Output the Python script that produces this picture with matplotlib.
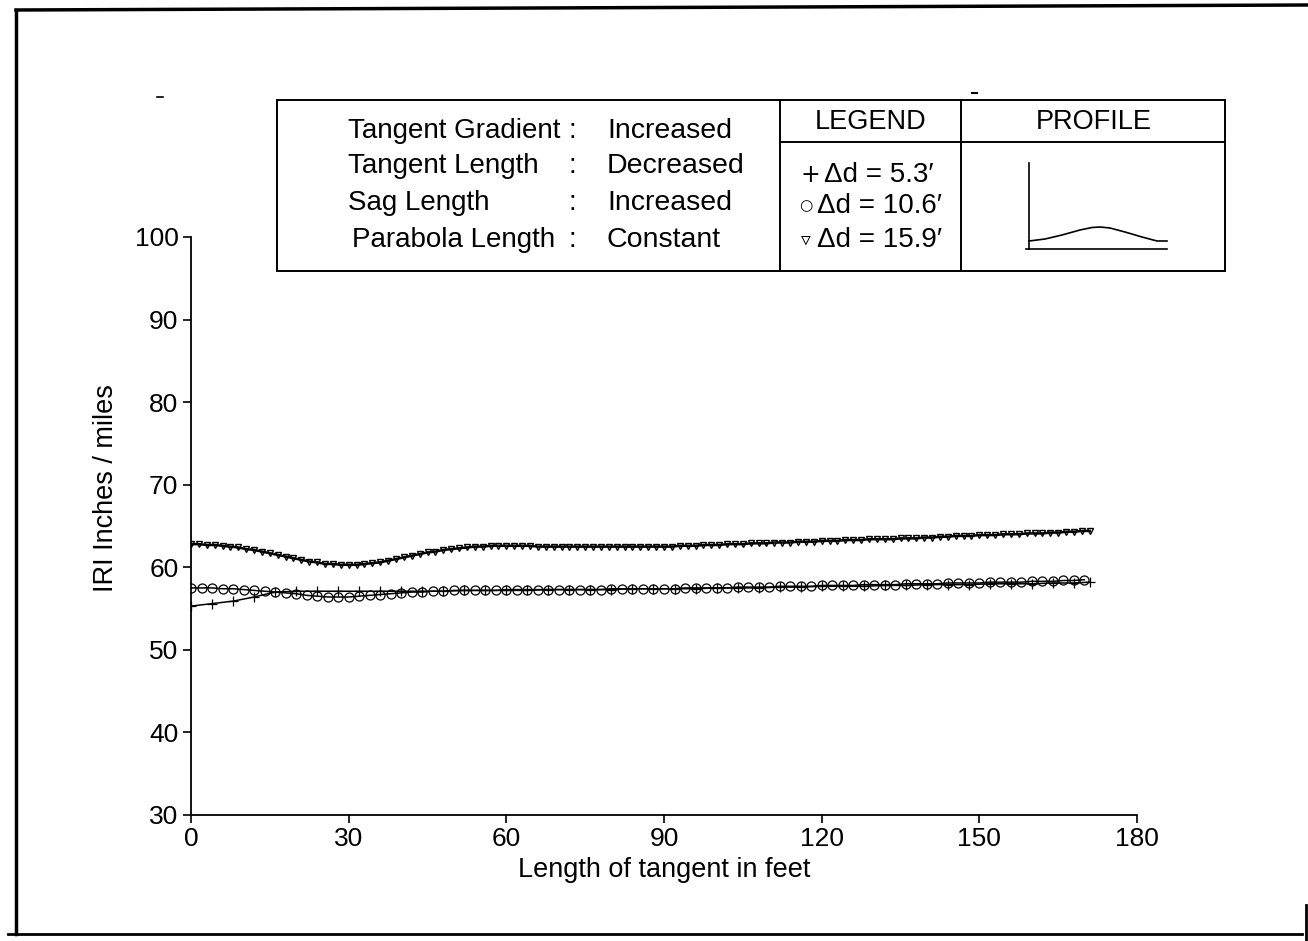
import matplotlib
matplotlib.use("Agg")
import matplotlib.pyplot as plt
from matplotlib.patches import Rectangle
from matplotlib.lines import Line2D

plt.rcParams['font.family'] = ['Liberation Sans', 'DejaVu Sans']

# ---------------- data ----------------
x_tri = [0, 1.5, 3, 4.5, 6, 7.5, 9, 10.5, 12, 13.5, 15, 16.5, 18, 19.5, 21, 22.5,
         24, 25.5, 27, 28.5, 30, 31.5, 33, 34.5, 36, 37.5, 39, 40.5, 42, 43.5, 45,
         46.5, 48, 49.5, 51, 52.5, 54, 55.5, 57, 58.5, 60, 61.5, 63, 64.5, 66, 67.5,
         69, 70.5, 72, 73.5, 75, 76.5, 78, 79.5, 81, 82.5, 84, 85.5, 87, 88.5, 90,
         91.5, 93, 94.5, 96, 97.5, 99, 100.5, 102, 103.5, 105, 106.5, 108, 109.5,
         111, 112.5, 114, 115.5, 117, 118.5, 120, 121.5, 123, 124.5, 126, 127.5,
         129, 130.5, 132, 133.5, 135, 136.5, 138, 139.5, 141, 142.5, 144, 145.5,
         147, 148.5, 150, 151.5, 153, 154.5, 156, 157.5, 159, 160.5, 162, 163.5,
         165, 166.5, 168, 169.5, 171]
y_tri = [62.8, 62.8, 62.7, 62.7, 62.6, 62.5, 62.4, 62.2, 62.1, 61.9,
         61.7, 61.5, 61.3, 61.1, 60.9, 60.7, 60.6, 60.4, 60.4, 60.3,
         60.3, 60.3, 60.4, 60.5, 60.6, 60.8, 61.0, 61.2, 61.4, 61.6,
         61.8, 61.9, 62.1, 62.2, 62.3, 62.4, 62.5, 62.5, 62.6, 62.6,
         62.6, 62.6, 62.6, 62.6, 62.5, 62.5, 62.5, 62.5, 62.5, 62.5,
         62.5, 62.5, 62.5, 62.5, 62.5, 62.5, 62.5, 62.5, 62.5, 62.5,
         62.5, 62.5, 62.6, 62.6, 62.6, 62.7, 62.7, 62.7, 62.8, 62.8,
         62.8, 62.9, 62.9, 62.9, 63.0, 63.0, 63.0, 63.1, 63.1, 63.1,
         63.2, 63.2, 63.2, 63.3, 63.3, 63.3, 63.4, 63.4, 63.4, 63.4,
         63.5, 63.5, 63.5, 63.6, 63.6, 63.7, 63.7, 63.8, 63.8, 63.8,
         63.9, 63.9, 63.9, 64.0, 64.0, 64.0, 64.1, 64.1, 64.1, 64.2,
         64.2, 64.3, 64.3, 64.4, 64.4]

x_circ = [0, 2, 4, 6, 8, 10, 12, 14, 16, 18, 20, 22, 24, 26, 28, 30, 32, 34, 36,
          38, 40, 42, 44, 46, 48, 50, 52, 54, 56, 58, 60, 62, 64, 66, 68, 70, 72,
          74, 76, 78, 80, 82, 84, 86, 88, 90, 92, 94, 96, 98, 100, 102, 104, 106,
          108, 110, 112, 114, 116, 118, 120, 122, 124, 126, 128, 130, 132, 134,
          136, 138, 140, 142, 144, 146, 148, 150, 152, 154, 156, 158, 160, 162,
          164, 166, 168, 170]
y_circ = [57.5, 57.5, 57.5, 57.4, 57.4, 57.3, 57.2, 57.1, 57.0, 56.9,
          56.8, 56.6, 56.5, 56.4, 56.4, 56.4, 56.5, 56.6, 56.7, 56.8,
          56.9, 57.0, 57.0, 57.1, 57.1, 57.2, 57.2, 57.2, 57.2, 57.2,
          57.3, 57.3, 57.3, 57.3, 57.3, 57.3, 57.3, 57.3, 57.3, 57.3,
          57.4, 57.4, 57.4, 57.4, 57.4, 57.4, 57.4, 57.5, 57.5, 57.5,
          57.5, 57.5, 57.6, 57.6, 57.6, 57.6, 57.7, 57.7, 57.7, 57.7,
          57.8, 57.8, 57.8, 57.8, 57.9, 57.9, 57.9, 57.9, 58.0, 58.0,
          58.0, 58.0, 58.1, 58.1, 58.1, 58.1, 58.2, 58.2, 58.2, 58.2,
          58.3, 58.3, 58.3, 58.4, 58.4, 58.5]

x_plus = [0, 4, 8, 12, 16, 20, 24, 28, 32, 36, 40, 44, 48, 52, 56, 60, 64, 68,
          72, 76, 80, 84, 88, 92, 96, 100, 104, 108, 112, 116, 120, 124, 128,
          132, 136, 140, 144, 148, 152, 156, 160, 164, 168, 171]
y_plus = [55.3, 55.6, 55.9, 56.4, 57.0, 57.1, 57.1, 57.1, 57.1, 57.1,
          57.1, 57.1, 57.1, 57.2, 57.2, 57.2, 57.2, 57.3, 57.3, 57.3,
          57.3, 57.4, 57.4, 57.4, 57.4, 57.5, 57.5, 57.5, 57.6, 57.6,
          57.7, 57.7, 57.7, 57.8, 57.8, 57.9, 57.9, 57.9, 58.0, 58.0,
          58.0, 58.1, 58.1, 58.2]

x_ticks = [0, 30, 60, 90, 120, 150, 180]
y_ticks = [30, 40, 50, 60, 70, 80, 90, 100]

info_labels = ["Tangent Gradient", "Tangent Length", "Sag Length", "Parabola Length"]
info_values = ["Increased", "Decreased", "Increased", "Constant"]
legend_symbols = ["+", "\u25CB", "\u25BF"]
legend_labels = ["\u0394d = 5.3\u2032", "\u0394d = 10.6\u2032", "\u0394d = 15.9\u2032"]

# ---------------- figure ----------------
W, H = 1308, 941
fig = plt.figure(figsize=(W / 100, H / 100), dpi=100)
fig.patch.set_facecolor('white')

ax = fig.add_axes([191 / W, 1 - 815 / H, (1137 - 191) / W, (815 - 237) / H])
ax.plot(x_tri, y_tri, color='black', lw=1.8, marker='v', ms=5, mfc='none',
        mec='black', mew=1.0, zorder=3)
ax.plot(x_circ, y_circ, color='black', lw=1.1, marker='o', ms=6.5, mfc='none',
        mec='black', mew=0.9, zorder=3)
ax.plot(x_plus, y_plus, color='black', lw=1.1, marker='+', ms=7, mew=0.9, zorder=3)

ax.set_xlim(0, 180)
ax.set_ylim(30, 100)
ax.set_xticks(x_ticks)
ax.set_yticks(y_ticks)
ax.spines['top'].set_visible(False)
ax.spines['right'].set_visible(False)
for s in ('left', 'bottom'):
    ax.spines[s].set_linewidth(1.3)
ax.tick_params(direction='out', length=6, width=1.2, labelsize=19, pad=3, colors='black')
ax.set_xlabel('Length of tangent in feet', fontsize=19.5, labelpad=4)
ax.set_ylabel('IRI Inches / miles', fontsize=19.5)
ax.yaxis.set_label_coords(-0.076, 0.565)

# ---------------- overlay (pixel coordinates) ----------------
ov = fig.add_axes([0, 0, 1, 1], zorder=5)
ov.set_xlim(0, W)
ov.set_ylim(H, 0)
ov.axis('off')

# figure frame (scanned page border)
ov.add_line(Line2D([16, 16], [10, 934], color='black', lw=2.5))
ov.add_line(Line2D([16, W], [10, 5], color='black', lw=2.5))
ov.add_line(Line2D([8, W - 6], [934, 934], color='black', lw=2.0))
ov.add_line(Line2D([1306, 1306], [905, H], color='black', lw=2.0))

# info box
ov.add_patch(Rectangle((277, 100), 1225 - 277, 271 - 100, fill=False, ec='black', lw=1.4))
ov.add_line(Line2D([780, 780], [100, 271], color='black', lw=1.4))
ov.add_line(Line2D([961, 961], [100, 271], color='black', lw=1.4))
ov.add_line(Line2D([780, 1225], [142, 142], color='black', lw=1.4))

row_y = [131, 166, 203, 240]
label_x = [348, 348, 348, 352]
for lab, val, y, lx in zip(info_labels, info_values, row_y, label_x):
    ov.text(lx, y, lab, fontsize=20, ha='left', va='center')
    ov.text(572, y, ':', fontsize=20, ha='center', va='center')
    ov.text(607, y, val, fontsize=20.5, ha='left', va='center')

ov.text(871, 122, 'LEGEND', fontsize=19.5, ha='center', va='center')
ov.text(1094, 122, 'PROFILE', fontsize=19.5, ha='center', va='center')

leg_y = [175, 206, 240]
sym_x = [810, 806, 806]
sym_size = [17, 11, 14]
text_x = [824, 817, 817]
for sym, lab, y, sx, ss, tx in zip(legend_symbols, legend_labels, leg_y, sym_x,
                                    sym_size, text_x):
    ov.text(sx, y, sym, fontsize=ss, ha='center', va='center',
            family=['DejaVu Sans'])
    ov.text(tx, y, lab, fontsize=20, ha='left', va='center')

# profile sketch
ov.add_line(Line2D([1029, 1029], [163, 249], color='black', lw=1.2))
ov.add_line(Line2D([1026, 1167], [249, 249], color='black', lw=1.2))
prof_x = [1029, 1045, 1062, 1080, 1092, 1100, 1110, 1125, 1142, 1157, 1167]
prof_y = [241, 239, 235, 230, 227.5, 227, 228, 232, 237, 241, 241]
ov.plot(prof_x, prof_y, color='black', lw=1.2)

# small scan specks
ov.add_line(Line2D([157, 163], [97, 97], color='black', lw=1.2))
ov.add_line(Line2D([972, 977], [93, 93], color='black', lw=1.5))

fig.savefig('out.png', dpi=100)
